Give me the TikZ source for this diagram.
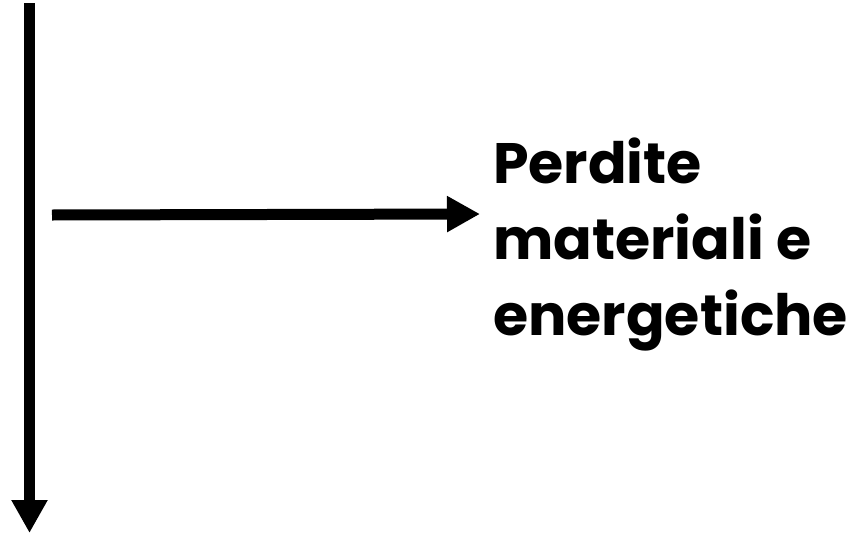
\documentclass[tikz,border=0pt]{standalone}
\usepackage{fontspec}
\setmainfont{Poppins}
\usepackage{tikz}
\usetikzlibrary{arrows.meta,positioning,calc}

\begin{document}
\begin{tikzpicture}[x=1pt,y=-1pt]
			\tikzstyle{flow}=[line width=11pt,-{Triangle[width=34pt,length=33pt]}]
			\tikzstyle{label}=[align=left,inner sep=0pt,font=\bfseries\fontsize{57}{76}\selectfont]
			\useasboundingbox (0,0) rectangle (860,533);
			\coordinate (top) at (29.5,3);
			\coordinate (bottom) at (29.5,533);
			\coordinate (src) at (52,215);
			\node[label,anchor=north west] (perdite) at (493,138) {Perdite\\materiali e\\energetiche};
			\draw[flow] (top) -- (bottom);
			\draw[flow] (src) -- ($(src -| perdite.west)+(-13,-1)$);
		\end{tikzpicture}
\end{document}
